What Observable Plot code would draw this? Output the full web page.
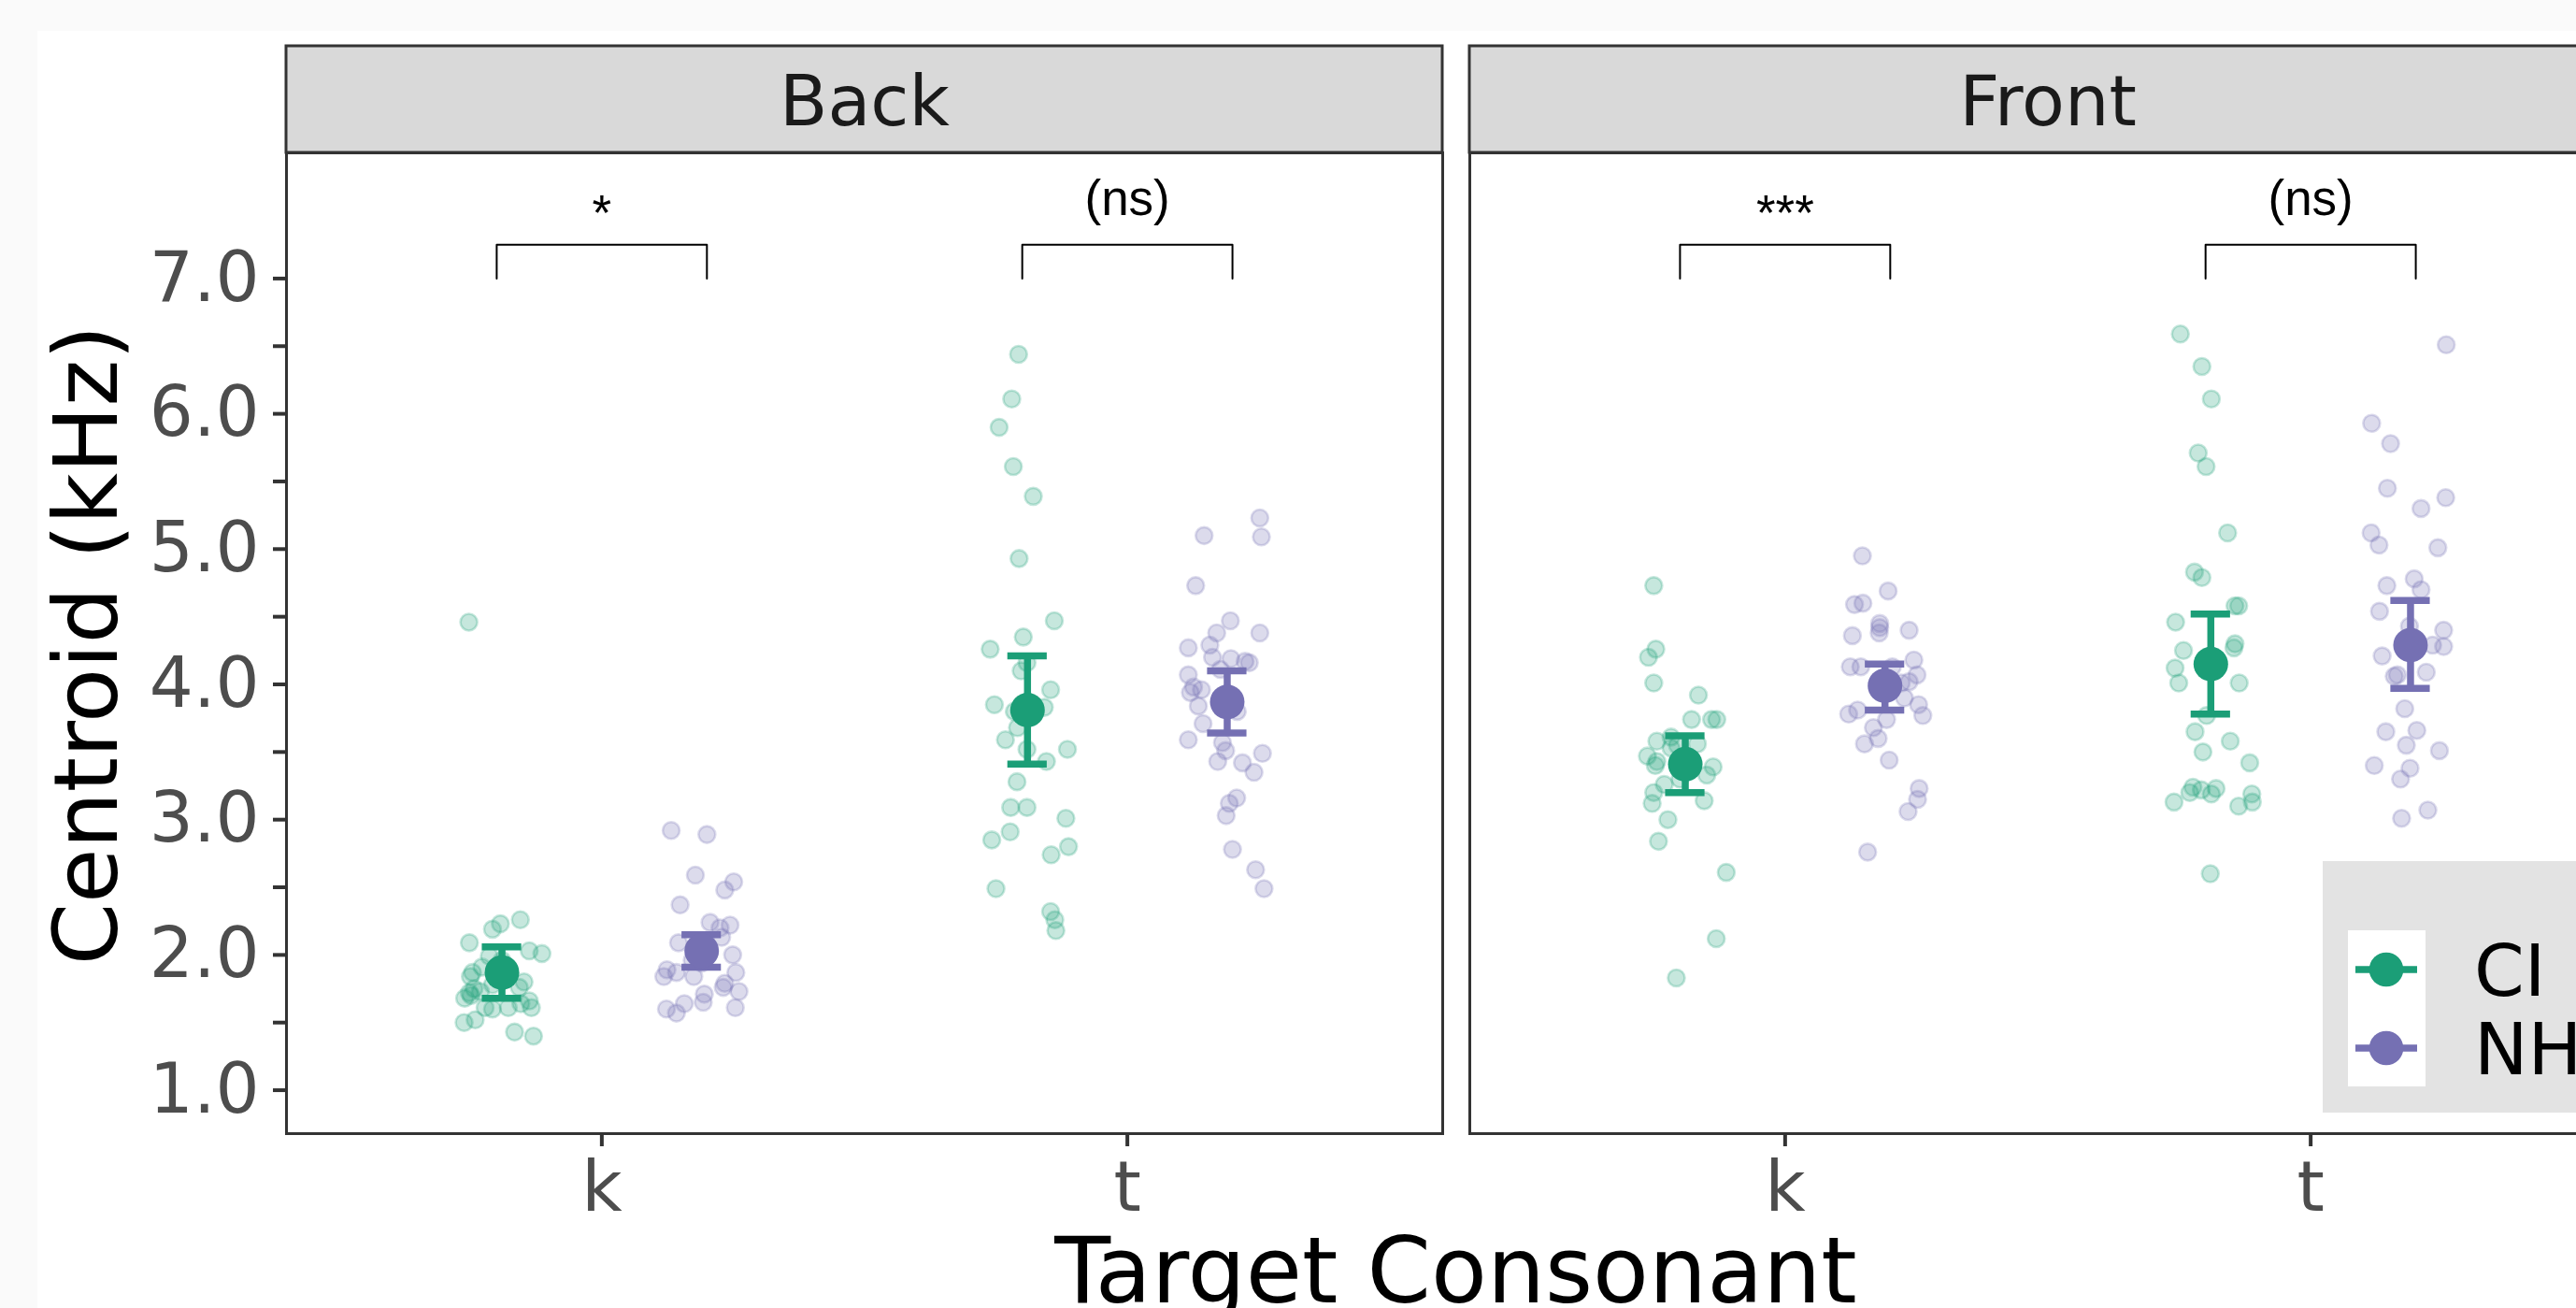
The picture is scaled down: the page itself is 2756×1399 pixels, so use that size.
<!DOCTYPE html>
<html>
<head>
<meta charset="utf-8">
<script src="https://cdn.jsdelivr.net/npm/d3@7"></script>
<script src="https://cdn.jsdelivr.net/npm/@observablehq/plot@0.6"></script>
<style>
html, body { margin: 0; padding: 0; background: #fafafa; overflow: hidden; width: 2756px; height: 1399px; }
#chart { position: absolute; left: 0; top: 0; }
</style>
</head>
<body>
<div id="chart"></div>
<script>
// ---------- data ----------
const panels = ["Back", "Front"];
const consonants = ["k", "t"];
const groups = ["CI", "NH"];
const groupColors = ["#1b9e77", "#7570b3"];
const yTicks = [1.0, 1.5, 2.0, 2.5, 3.0, 3.5, 4.0, 4.5, 5.0, 5.5, 6.0, 6.5, 7.0];
const xTitle = "Target Consonant";
const yTitle = "Centroid (kHz)";

// summary cells in order: Back-k, Back-t, Front-k, Front-t
const cellPanel = ["Back", "Back", "Front", "Front"];
const cellConsonant = ["k", "t", "k", "t"];
const meanCI = [1.87, 3.81, 3.41, 4.15];
const lowCI  = [1.68, 3.41, 3.20, 3.78];
const highCI = [2.06, 4.21, 3.62, 4.52];
const meanNH = [2.03, 3.87, 3.99, 4.29];
const lowNH  = [1.91, 3.64, 3.81, 3.97];
const highNH = [2.15, 4.10, 4.15, 4.62];
const sigLabels = ["*", "(ns)", "***", "(ns)"];
const bracketLow = 7.0;
const bracketHigh = 7.25;

// individual (jittered) observations: [x on category axis (k=1, t=2), centroid kHz]
const backK_CI = [[0.748,2.09],[0.792,2.19],[0.807,2.23],[0.845,2.26],[0.862,2.03],[0.886,2.01],[0.786,1.99],[0.772,1.91],[0.754,1.87],[0.750,1.84],[0.852,1.80],[0.843,1.76],[0.757,1.75],[0.769,1.73],[0.748,1.72],[0.739,1.68],[0.751,1.70],[0.862,1.66],[0.866,1.61],[0.822,1.61],[0.792,1.60],[0.778,1.61],[0.738,1.50],[0.759,1.52],[0.834,1.43],[0.870,1.40],[0.810,1.96],[0.792,1.78],[0.810,1.81],[0.846,1.64],[0.747,4.46]];
const backK_NH = [[1.132,2.92],[1.200,2.89],[1.178,2.59],[1.251,2.54],[1.234,2.48],[1.149,2.37],[1.206,2.24],[1.225,2.20],[1.244,2.22],[1.228,2.13],[1.146,2.09],[1.249,2.00],[1.124,1.89],[1.118,1.84],[1.142,1.87],[1.175,1.84],[1.255,1.87],[1.234,1.79],[1.261,1.73],[1.231,1.76],[1.195,1.71],[1.193,1.65],[1.123,1.60],[1.157,1.64],[1.142,1.57],[1.254,1.61],[1.190,1.94],[1.172,1.96]];
const backT_CI = [[1.793,6.44],[1.780,6.11],[1.756,5.90],[1.783,5.61],[1.821,5.39],[1.794,4.93],[1.861,4.47],[1.802,4.35],[1.739,4.26],[1.798,4.10],[1.809,4.16],[1.854,3.96],[1.747,3.85],[1.785,3.80],[1.842,3.83],[1.791,3.68],[1.768,3.59],[1.809,3.52],[1.886,3.52],[1.846,3.43],[1.790,3.28],[1.778,3.09],[1.809,3.09],[1.883,3.01],[1.742,2.85],[1.777,2.91],[1.888,2.80],[1.855,2.74],[1.750,2.49],[1.854,2.32],[1.862,2.26],[1.864,2.18]];
const backT_NH = [[2.252,5.23],[2.255,5.09],[2.146,5.10],[2.130,4.73],[2.196,4.47],[2.170,4.38],[2.252,4.38],[2.116,4.27],[2.157,4.29],[2.162,4.20],[2.197,4.19],[2.224,4.17],[2.232,4.16],[2.177,4.11],[2.116,4.07],[2.126,3.98],[2.120,3.94],[2.141,3.96],[2.135,3.84],[2.209,3.80],[2.144,3.71],[2.116,3.59],[2.181,3.57],[2.187,3.51],[2.257,3.49],[2.172,3.43],[2.219,3.42],[2.241,3.35],[2.208,3.16],[2.194,3.12],[2.188,3.03],[2.200,2.78],[2.244,2.63],[2.260,2.49]];
const frontK_CI = [[0.750,4.73],[0.754,4.26],[0.740,4.20],[0.750,4.01],[0.835,3.92],[0.822,3.74],[0.860,3.74],[0.870,3.74],[0.756,3.58],[0.783,3.61],[0.833,3.56],[0.738,3.47],[0.756,3.43],[0.753,3.40],[0.863,3.39],[0.851,3.33],[0.770,3.26],[0.750,3.20],[0.747,3.12],[0.846,3.14],[0.777,3.00],[0.759,2.84],[0.888,2.61],[0.869,2.12],[0.793,1.83],[0.795,3.55],[0.800,3.30],[0.783,3.53]];
const frontK_NH = [[1.147,4.95],[1.196,4.69],[1.132,4.59],[1.148,4.60],[1.180,4.45],[1.179,4.38],[1.128,4.36],[1.236,4.40],[1.180,4.42],[1.124,4.13],[1.144,4.13],[1.245,4.18],[1.251,4.07],[1.236,4.02],[1.204,4.13],[1.227,3.90],[1.254,3.85],[1.262,3.77],[1.121,3.78],[1.138,3.81],[1.193,3.74],[1.168,3.68],[1.177,3.60],[1.151,3.56],[1.198,3.44],[1.255,3.23],[1.252,3.15],[1.234,3.06],[1.157,2.76],[1.221,4.01]];
const frontT_CI = [[1.752,6.59],[1.793,6.35],[1.811,6.11],[1.786,5.71],[1.801,5.61],[1.842,5.12],[1.779,4.83],[1.793,4.79],[1.856,4.58],[1.863,4.58],[1.743,4.46],[1.856,4.30],[1.854,4.27],[1.758,4.25],[1.742,4.12],[1.749,4.01],[1.864,4.01],[1.802,3.77],[1.780,3.65],[1.847,3.58],[1.795,3.50],[1.884,3.42],[1.776,3.24],[1.770,3.20],[1.792,3.22],[1.820,3.23],[1.811,3.19],[1.740,3.13],[1.863,3.10],[1.888,3.19],[1.889,3.13],[1.809,2.60]];
const frontT_NH = [[2.258,6.51],[2.116,5.93],[2.152,5.78],[2.146,5.45],[2.257,5.38],[2.210,5.30],[2.115,5.12],[2.130,5.03],[2.242,5.01],[2.145,4.73],[2.197,4.78],[2.210,4.70],[2.131,4.54],[2.188,4.43],[2.253,4.40],[2.232,4.29],[2.253,4.28],[2.136,4.21],[2.220,4.09],[2.159,4.06],[2.165,4.07],[2.179,3.82],[2.143,3.65],[2.202,3.66],[2.182,3.55],[2.245,3.51],[2.121,3.40],[2.189,3.38],[2.171,3.30],[2.223,3.07],[2.173,3.01]];

// ---------- build tables ----------
const dodge = 0.19;       // mean point offset from category centre
const bracketDodge = 0.2; // bracket leg offset
const capHalf = 0.0375;   // half-width of error bar caps (category units)

const obsSets = [
  ["Back", "CI", backK_CI], ["Back", "NH", backK_NH],
  ["Back", "CI", backT_CI], ["Back", "NH", backT_NH],
  ["Front", "CI", frontK_CI], ["Front", "NH", frontK_NH],
  ["Front", "CI", frontT_CI], ["Front", "NH", frontT_NH]
];
const obs = obsSets.flatMap(([panel, group, arr]) => arr.map(([x, y]) => ({panel, group, x, y})));

const summary = [];
cellPanel.forEach((panel, i) => {
  const c = consonants.indexOf(cellConsonant[i]) + 1;
  summary.push({panel, group: "CI", x: c - dodge, mean: meanCI[i], low: lowCI[i], high: highCI[i]});
  summary.push({panel, group: "NH", x: c + dodge, mean: meanNH[i], low: lowNH[i], high: highNH[i]});
});

const bracketPts = [];
const sigTable = [];
cellPanel.forEach((panel, i) => {
  const c = consonants.indexOf(cellConsonant[i]) + 1;
  const id = panel + cellConsonant[i];
  bracketPts.push({id, panel, x: c - bracketDodge, y: bracketLow});
  bracketPts.push({id, panel, x: c - bracketDodge, y: bracketHigh});
  bracketPts.push({id, panel, x: c + bracketDodge, y: bracketHigh});
  bracketPts.push({id, panel, x: c + bracketDodge, y: bracketLow});
  sigTable.push({panel, x: c, label: sigLabels[i]});
});

// ---------- layout ----------
const W = 2829, H = 1399;
const mL = 306, mR = 20, mT = 163, mB = 187;
const yDomain = [0.679, 7.929];
const stripTop = 8.717;   // value at the top edge of the strip
const stripBase = 8.136;  // baseline of strip text
const sigBase = 7.466;    // baseline of significance labels

const chart = Plot.plot({
  width: W, height: H,
  marginLeft: mL, marginRight: mR, marginTop: mT, marginBottom: mB,
  style: {background: "transparent", maxWidth: "none", fontFamily: "DejaVu Sans", overflow: "visible"},
  fx: {domain: panels, paddingInner: 29 / 1266, paddingOuter: 0, axis: null, label: null},
  x: {domain: [0.4, 2.6], axis: null},
  y: {domain: yDomain, axis: null},
  color: {domain: groups, range: groupColors},
  marks: [
    Plot.rect(panels, {fx: d => d, x1: 0.4, x2: 2.6, y1: yDomain[1], y2: stripTop, fill: "#d9d9d9", stroke: "#333333", strokeWidth: 3}),
    Plot.text(panels, {fx: d => d, x: 1.5, y: stripBase, text: d => d, fontSize: 75, fill: "#1a1a1a", lineAnchor: "bottom", textAnchor: "middle"}),
    Plot.frame({stroke: "#333333", strokeWidth: 3, fill: "white"}),
    Plot.axisY({ticks: yTicks, tickFormat: d => Number.isInteger(d) ? d.toFixed(1) : "", tickSize: 14, tickPadding: 15, fontSize: 74, fill: "#4d4d4d", stroke: "#333333", strokeWidth: 4, label: null}),
    Plot.axisX({ticks: [1, 2], tickFormat: d => consonants[d - 1], tickSize: 14, tickPadding: 15, fontSize: 75, fill: "#4d4d4d", stroke: "#333333", strokeWidth: 4, label: null}),
    Plot.dot(obs, {fx: "panel", x: "x", y: "y", r: 9, fill: "group", fillOpacity: 0.25, stroke: "group", strokeOpacity: 0.25, strokeWidth: 2.6}),
    Plot.ruleX(summary, {fx: "panel", x: "x", y1: "low", y2: "high", stroke: "group", strokeWidth: 7.5}),
    Plot.ruleY(summary, {fx: "panel", y: "low", x1: d => d.x - capHalf, x2: d => d.x + capHalf, stroke: "group", strokeWidth: 7.5}),
    Plot.ruleY(summary, {fx: "panel", y: "high", x1: d => d.x - capHalf, x2: d => d.x + capHalf, stroke: "group", strokeWidth: 7.5}),
    Plot.dot(summary, {fx: "panel", x: "x", y: "mean", r: 18.5, fill: "group"}),
    Plot.line(bracketPts, {fx: "panel", x: "x", y: "y", z: "id", stroke: "black", strokeWidth: 2}),
    Plot.text(sigTable.filter(d => d.label.startsWith("(")), {fx: "panel", x: "x", y: sigBase, text: "label", fontSize: 53, fontFamily: "Liberation Sans", fill: "black", lineAnchor: "bottom"}),
    Plot.text(sigTable.filter(d => !d.label.startsWith("(")), {fx: "panel", x: "x", y: sigBase, dy: 16, text: "label", fontSize: 53, fontFamily: "Liberation Sans", fill: "black", lineAnchor: "bottom"})
  ]
});

const svg = d3.select(chart);
// white figure background
svg.insert("rect", ":first-child").attr("x", 40).attr("y", 33).attr("width", W).attr("height", H).attr("fill", "white");

// axis titles
svg.append("text").text(yTitle)
  .attr("transform", "translate(125,690) rotate(-90)")
  .attr("text-anchor", "middle").attr("font-size", 95).attr("fill", "black").attr("font-family", "DejaVu Sans");
svg.append("text").text(xTitle)
  .attr("x", mL + (W - mL - mR) / 2).attr("y", 1393)
  .attr("text-anchor", "middle").attr("font-size", 98).attr("fill", "black").attr("font-family", "DejaVu Sans");

// legend (inside the right panel)
const leg = svg.append("g");
leg.append("rect").attr("x", 2485).attr("y", 921).attr("width", 400).attr("height", 269).attr("fill", "#e3e3e3");
leg.append("rect").attr("x", 2512).attr("y", 995).attr("width", 83).attr("height", 167).attr("fill", "white");
groups.forEach((g, i) => {
  const cy = 1037 + i * 84;
  leg.append("line").attr("x1", 2520).attr("x2", 2586).attr("y1", cy).attr("y2", cy)
    .attr("stroke", groupColors[i]).attr("stroke-width", 7.5);
  leg.append("circle").attr("cx", 2553).attr("cy", cy).attr("r", 18.3).attr("fill", groupColors[i]);
  leg.append("text").text(g).attr("x", 2647).attr("y", cy + 28)
    .attr("text-anchor", "start")
    .attr("font-size", 77).attr("fill", "black").attr("font-family", "DejaVu Sans");
});

document.getElementById("chart").appendChild(chart);
</script>
</body>
</html>
